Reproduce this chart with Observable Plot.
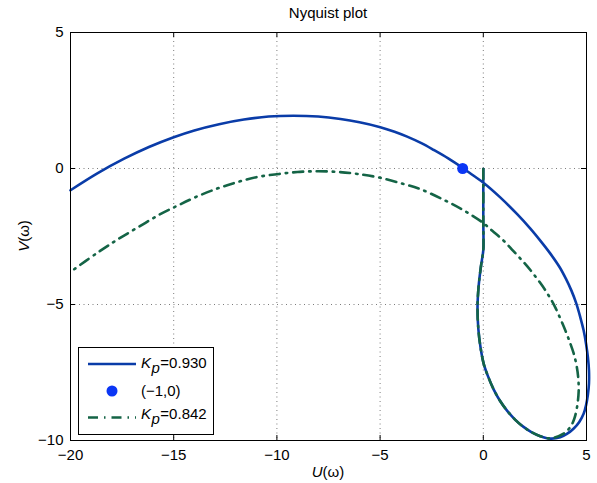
<!DOCTYPE html>
<html>
<head>
<meta charset="utf-8">
<script src="https://cdn.jsdelivr.net/npm/d3@7"></script>
<script src="https://cdn.jsdelivr.net/npm/@observablehq/plot@0.6"></script>
<style>
  html, body { margin: 0; padding: 0; background: #fff; }
  svg { font-family: "Liberation Sans", Arial, Helvetica, sans-serif; }
</style>
</head>
<body>
<div id="chart"></div>
<script>
// Kp = 0.930 curve (U, V) in order along the path
const blueU = [0, 0, 0, 0.01, 0.0, -0.12, -0.23, -0.28, -0.24, -0.13, 0.02, 0.25, 0.50, 0.80, 1.15, 1.55, 1.95, 2.35, 2.76, 3.24, 3.73, 4.05, 4.37, 4.65, 4.86, 4.98, 5.07, 5.12, 5.12, 5.07, 4.98, 4.86, 4.70, 4.50, 4.27, 4.00, 3.70, 3.24, 2.76, 2.27, 1.63, 0.82, 0.02, -0.5, -1.0, -1.7, -2.4, -3.0, -3.69, -4.3, -4.99, -6.0, -6.92, -8.0, -9.2, -10.4, -11.6, -12.8, -14.0, -15.0, -16.2, -17.4, -18.7, -20.0];
const blueV = [-0.02, -1.0, -2.0, -2.6, -3.0, -3.63, -4.36, -5.1, -5.9, -6.6, -7.18, -7.68, -8.12, -8.53, -8.9, -9.24, -9.5, -9.7, -9.84, -9.93, -9.88, -9.76, -9.57, -9.32, -9.02, -8.7, -8.3, -7.9, -7.43, -6.95, -6.45, -5.95, -5.47, -4.95, -4.49, -4.05, -3.63, -3.12, -2.65, -2.2, -1.67, -1.06, -0.53, -0.25, 0.02, 0.37, 0.68, 0.93, 1.17, 1.35, 1.52, 1.7, 1.82, 1.91, 1.94, 1.91, 1.8, 1.63, 1.4, 1.15, 0.79, 0.36, -0.18, -0.8];
// Kp = 0.842 curve
const greenU = [0, 0, 0, 0.01, 0.0, -0.12, -0.23, -0.28, -0.24, -0.13, 0.02, 0.25, 0.50, 0.80, 1.15, 1.55, 1.95, 2.35, 2.76, 3.24, 3.89, 4.21, 4.40, 4.54, 4.62, 4.60, 4.52, 4.38, 4.20, 4.00, 3.75, 3.45, 3.15, 2.80, 2.36, 1.95, 1.45, 0.98, 0.45, -0.06, -0.95, -1.92, -3.05, -3.9, -5.0, -6.1, -7.0, -8.0, -9.0, -10.0, -11.0, -12.0, -12.9, -13.9, -14.8, -15.7, -16.7, -17.7, -18.7, -20.0];
const greenV = [-0.02, -1.0, -2.0, -2.6, -3.0, -3.63, -4.36, -5.1, -5.9, -6.6, -7.18, -7.68, -8.12, -8.53, -8.9, -9.24, -9.5, -9.7, -9.84, -9.92, -9.75, -9.51, -9.22, -8.78, -8.2, -7.7, -7.25, -6.8, -6.4, -6.0, -5.55, -5.05, -4.65, -4.25, -3.81, -3.44, -3.03, -2.65, -2.3, -1.97, -1.54, -1.15, -0.76, -0.56, -0.34, -0.2, -0.13, -0.1, -0.13, -0.21, -0.32, -0.52, -0.74, -1.04, -1.36, -1.7, -2.15, -2.6, -3.1, -3.8];
// critical point
const critU = [-1];
const critV = [0];
// ticks
const xTicks = [-20, -15, -10, -5, 0, 5];
const yTicks = [-10, -5, 0, 5];
const seriesLabels = ["0.930", "(\u22121,0)", "0.842"];
const titleText = "Nyquist plot";

const blue = blueU.map((u, i) => ({u, v: blueV[i]}));
const green = greenU.map((u, i) => ({u, v: greenV[i]}));
const crit = critU.map((u, i) => ({u, v: critV[i]}));

const W = 597, H = 483;
const mL = 70, mR = 11, mT = 32, mB = 43;
const frameH = H - mT - mB, frameW = W - mL - mR;
const BLUE = "#0a3ca8", GREEN = "#146446", DOT = "#0b36f5";
const DASH = "10,6,1.5,6";
const FS = 15;
const fmt = d => d < 0 ? "\u2212" + Math.abs(d) : String(d);

const plot = Plot.plot({
  width: W, height: H,
  marginLeft: mL, marginRight: mR, marginTop: mT, marginBottom: mB,
  style: {fontFamily: '"Liberation Sans", Arial, sans-serif', fontSize: FS + "px", background: "#fff", color: "#000"},
  x: {domain: [-20, 5], ticks: xTicks, tickFormat: fmt},
  y: {domain: [-10, 5], ticks: yTicks, tickFormat: fmt},
  marks: [
    Plot.gridX(xTicks, {stroke: "#444", strokeOpacity: 0.7, strokeDasharray: "1,3.5"}),
    Plot.gridY(yTicks, {stroke: "#444", strokeOpacity: 0.7, strokeDasharray: "1,3.5"}),
    // inward ticks on all four sides
    Plot.ruleX(xTicks, {insetTop: frameH - 5, stroke: "#000"}),
    Plot.ruleX(xTicks, {insetBottom: frameH - 5, stroke: "#000"}),
    Plot.ruleY(yTicks, {insetLeft: frameW - 5, stroke: "#000"}),
    Plot.ruleY(yTicks, {insetRight: frameW - 5, stroke: "#000"}),
    Plot.axisX(xTicks, {tickSize: 0, tickPadding: 9, label: null, fontSize: FS}),
    Plot.axisY(yTicks, {tickSize: 0, tickPadding: 7, label: null, fontSize: FS}),
    Plot.line(blue, {x: "u", y: "v", stroke: BLUE, strokeWidth: 2.6, curve: "catmull-rom"}),
    Plot.line(green, {x: "u", y: "v", stroke: GREEN, strokeWidth: 2.6, strokeDasharray: DASH, curve: "catmull-rom"}),
    Plot.dot(crit, {x: "u", y: "v", r: 5.5, fill: DOT, stroke: "none"}),
    Plot.frame({stroke: "#000", strokeWidth: 1})
  ]
});

document.getElementById("chart").appendChild(plot);
const svg = d3.select(plot);

// title
svg.append("text").attr("x", mL + frameW / 2).attr("y", 17.5)
  .attr("text-anchor", "middle").attr("font-size", FS).attr("fill", "#000").text(titleText);

// axis labels
const xl = svg.append("text").attr("x", mL + frameW / 2).attr("y", 477)
  .attr("text-anchor", "middle").attr("font-size", FS).attr("fill", "#000");
xl.append("tspan").attr("font-style", "italic").text("U");
xl.append("tspan").text("(\u03c9)");
const yl = svg.append("text").attr("transform", `translate(29,${mT + frameH / 2}) rotate(-90)`)
  .attr("text-anchor", "middle").attr("font-size", FS).attr("fill", "#000");
yl.append("tspan").attr("font-style", "italic").text("V");
yl.append("tspan").text("(\u03c9)");

// legend
const lg = svg.append("g").attr("text-anchor", "start");
lg.append("rect").attr("x", 78.5).attr("y", 347.5).attr("width", 135).attr("height", 87)
  .attr("fill", "#fff").attr("stroke", "#000").attr("stroke-width", 1);
const rows = [364, 391, 417.5];
lg.append("line").attr("x1", 88).attr("x2", 136).attr("y1", rows[0]).attr("y2", rows[0])
  .attr("stroke", BLUE).attr("stroke-width", 2.6);
lg.append("circle").attr("cx", 112).attr("cy", rows[1]).attr("r", 5.5).attr("fill", DOT);
lg.append("line").attr("x1", 88).attr("x2", 136).attr("y1", rows[2]).attr("y2", rows[2])
  .attr("stroke", GREEN).attr("stroke-width", 2.6).attr("stroke-dasharray", DASH);
function kpLabel(y, val) {
  const t = lg.append("text").attr("x", 141).attr("y", y).attr("font-size", FS)
    .attr("fill", "#000").attr("text-anchor", "start");
  t.append("tspan").attr("font-style", "italic").text("K");
  t.append("tspan").attr("font-style", "italic").attr("dy", 5).attr("dx", 0.5).text("p");
  t.append("tspan").attr("dy", -5).attr("dx", 0.5).text("=" + val);
}
kpLabel(367.5, seriesLabels[0]);
lg.append("text").attr("x", 141).attr("y", 395.5).attr("font-size", FS).attr("fill", "#000")
  .attr("text-anchor", "start").text(seriesLabels[1]);
kpLabel(418.5, seriesLabels[2]);
</script>
</body>
</html>
